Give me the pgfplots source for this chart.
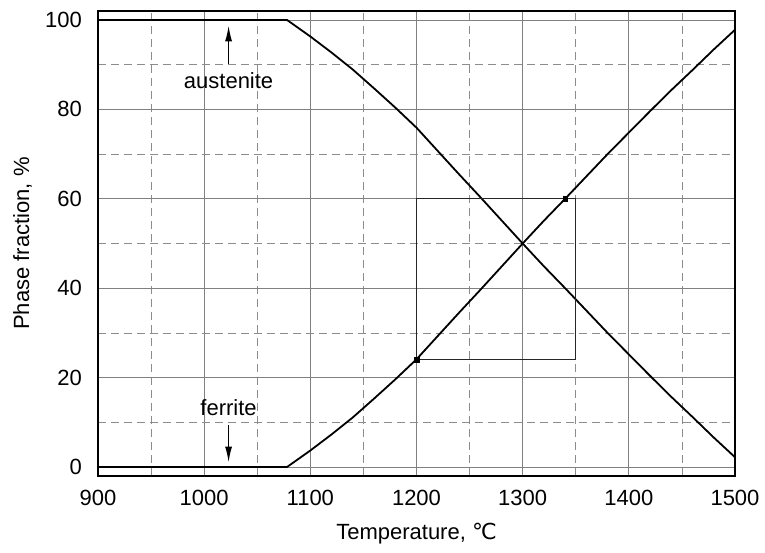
\documentclass[border=0pt]{standalone}
\usepackage{fontspec}
\setmainfont{Liberation Sans}
\newfontfamily\dejavu{DejaVu Sans}
\usepackage{pgfplots}
\pgfplotsset{compat=1.18}
\usetikzlibrary{arrows.meta}

% ferrite fraction vs temperature
\pgfplotstableread{
T    f
900  0
1078 0
1100 3.7
1120 7.3
1140 11.1
1160 15.3
1180 19.6
1200 24.1
1220 29.3
1240 34.5
1260 39.6
1280 44.8
1300 50
1320 55.1
1340 60
1360 65
1380 70
1400 74.8
1420 79.6
1440 84.3
1460 88.8
1480 93.4
1500 97.8
}\ferrite

% austenite fraction
\pgfplotstableread{
T    a
900  100
1078 100
1100 96.3
1120 92.7
1140 88.9
1160 84.7
1180 80.4
1200 75.9
1220 70.7
1240 65.5
1260 60.4
1280 55.2
1300 50
1320 44.9
1340 40
1360 35
1380 30
1400 25.2
1420 20.4
1440 15.7
1460 11.2
1480 6.6
1500 2.2
}\austenite

\begin{document}
\begin{tikzpicture}
\begin{axis}[
  scale only axis,
  width=637pt, height=465pt,
  xmin=900, xmax=1500,
  ymin=-2, ymax=102,
  xtick={900,1000,...,1500},
  ytick={0,20,...,100},
  minor xtick={950,1050,...,1450},
  minor ytick={10,30,...,90},
  scaled x ticks=false,
  grid=both,
  major grid style={black!50, line width=0.8pt},
  minor grid style={black!45, line width=0.8pt, dash pattern=on 8pt off 5pt},
  major tick length=0pt, minor tick length=0pt,
  axis line style={black, line width=2pt},
  /pgf/number format/assume math mode=true,
  /pgf/number format/1000 sep={},
  tick label style={font=\fontsize{22}{26}\selectfont, inner sep=0pt},
  xticklabel style={anchor=north, yshift=-14pt},
  yticklabel style={anchor=east, xshift=-16pt},
  xlabel={Temperature, {\dejavu ℃}},
  ylabel={Phase fraction, \%},
  label style={font=\fontsize{22}{26}\selectfont, inner sep=0pt},
  xlabel style={at={(axis description cs:0.5,0)}, anchor=north, yshift=-47pt},
  ylabel style={at={(axis description cs:-0.1334,0.5)}, anchor=north},
]
\addplot[black, line width=1.8pt, line join=round] table[x=T, y=f] {\ferrite};
\addplot[black, line width=1.8pt, line join=round] table[x=T, y=a] {\austenite};
% box around the crossing region
\addplot[black!85, line width=1pt] coordinates {
  (1200,24)(1350,24)(1350,60)(1200,60)(1200,24)
};
\addplot[only marks, mark=square*, mark size=2.2pt, black] coordinates {
  (1200,24)(1340,60)
};
% labels and arrows
\draw[line width=1.6pt, -{Latex[length=16pt, width=7pt]}]
  (axis cs:1023,90.2) -- (axis cs:1023,98.8);
\node[font=\fontsize{22}{26}\selectfont, anchor=base] at (axis cs:1023,84.6) {austenite};
\draw[line width=1.6pt, -{Latex[length=16pt, width=7pt]}]
  (axis cs:1023,9.4) -- (axis cs:1023,1.0);
\node[font=\fontsize{22}{26}\selectfont, anchor=base] at (axis cs:1023,11.5) {ferrite};
\end{axis}
\pgfresetboundingbox
\path (-98pt,-77pt) rectangle (667pt,476pt);
\end{tikzpicture}
\end{document}
